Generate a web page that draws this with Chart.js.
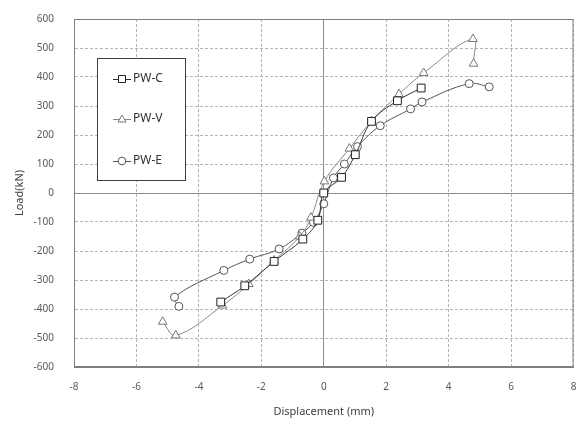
<!DOCTYPE html>
<html>
<head>
<meta charset="utf-8">
<script src="https://cdn.jsdelivr.net/npm/chart.js@4.4.0/dist/chart.umd.min.js"></script>
<style>
  html, body { margin: 0; padding: 0; background: #fff; overflow: hidden; }
  canvas { display: block; }
</style>
</head>
<body>
<canvas id="loadChart" width="580" height="430"></canvas>
<script>
// values (displacement mm, load kN)
var pwcX = [-3.3, -2.53, -1.59, -0.67, -0.19, 0, 0.57, 1.01, 1.53, 2.36, 3.12];
var pwcY = [-376, -320, -236, -159, -94, 0, 54, 132, 247, 318, 362];

var pwvX = [-5.16, -4.74, -3.24, -2.4, -1.59, -0.77, -0.41, 0.02, 0.82, 1.53, 2.41, 3.2, 4.78, 4.8];
var pwvY = [-444, -491, -388, -314, -233, -150, -85, 40, 153, 247, 341, 414, 531, 446];

var pweX = [-4.64, -4.78, -3.2, -2.37, -1.43, -0.7, -0.33, 0, 0.31, 0.66, 1.08, 1.81, 2.78, 3.15, 4.66, 5.3];
var pweY = [-391, -359, -267, -228, -193, -138, -101, -37, 52, 100, 160, 232, 290, 314, 377, 366];

var xTicks = [-8, -6, -4, -2, 0, 2, 4, 6, 8];
var yTicks = [-600, -500, -400, -300, -200, -100, 0, 100, 200, 300, 400, 500, 600];

function pts(xs, ys) {
  var out = [];
  for (var i = 0; i < xs.length; i++) out.push({x: xs[i], y: ys[i]});
  return out;
}

var legendItems = [
  {label: 'PW-C', style: 'rect', color: '#222222', line: '#333333'},
  {label: 'PW-V', style: 'triangle', color: '#777777', line: '#888888'},
  {label: 'PW-E', style: 'circle', color: '#555555', line: '#555555'}
];

// frame round the plot + legend box inside the plot
var framePlugin = {
  id: 'frame',
  afterDraw: function(c) {
    var ctx = c.ctx, a = c.chartArea;
    ctx.save();
    ctx.strokeStyle = '#7f7f7f';
    ctx.lineWidth = 1;
    ctx.strokeRect(a.left + 0.5, a.top + 0.5, a.right - a.left - 1, a.bottom - a.top - 1);

    // legend box
    var bx = 97, by = 58, bw = 88, bh = 122;
    ctx.fillStyle = '#fff';
    ctx.fillRect(bx, by, bw, bh);
    ctx.strokeStyle = '#404040';
    ctx.strokeRect(bx + 0.5, by + 0.5, bw, bh);
    var rows = [79, 119, 161];
    ctx.font = '12px "Noto Sans", sans-serif';
    ctx.textBaseline = 'middle';
    legendItems.forEach(function(it, i) {
      var y = rows[i], x0 = 113, x1 = 131, cx = 122;
      ctx.strokeStyle = it.line;
      ctx.lineWidth = 1;
      ctx.beginPath();
      ctx.moveTo(x0, y + 0.5);
      ctx.lineTo(x1, y + 0.5);
      ctx.stroke();
      ctx.fillStyle = '#fff';
      ctx.strokeStyle = it.color;
      ctx.beginPath();
      if (it.style === 'rect') ctx.rect(cx - 3.5, y - 3.5, 7, 7);
      else if (it.style === 'circle') ctx.arc(cx, y, 3.8, 0, Math.PI * 2);
      else { ctx.moveTo(cx, y - 4); ctx.lineTo(cx + 4, y + 3); ctx.lineTo(cx - 4, y + 3); ctx.closePath(); }
      ctx.fill();
      ctx.stroke();
      ctx.fillStyle = '#333';
      ctx.fillText(it.label, 133, y);
    });
    ctx.restore();
  }
};

function series(label, xs, ys, style, color, line, r) {
  return {
    label: label,
    data: pts(xs, ys),
    showLine: true,
    tension: 0.4,
    borderColor: line,
    borderWidth: 1,
    pointStyle: style,
    pointRadius: r,
    pointBackgroundColor: '#fff',
    pointBorderColor: color,
    pointBorderWidth: 1
  };
}

var chart = document.getElementById('loadChart');

new Chart(chart, {
  type: 'scatter',
  data: {
    datasets: [
      series('PW-C', pwcX, pwcY, 'rect', '#222222', '#333333', 5.5),
      series('PW-V', pwvX, pwvY, 'triangle', '#777777', '#888888', 5),
      series('PW-E', pweX, pweY, 'circle', '#555555', '#555555', 4)
    ]
  },
  options: {
    responsive: false,
    animation: false,
    layout: { padding: { top: 19, right: 3, left: 0, bottom: 0 } },
    plugins: {
      legend: { display: false },
      tooltip: { enabled: false }
    },
    scales: {
      x: {
        type: 'linear',
        min: -8, max: 8,
        afterBuildTicks: function(s) { s.ticks = xTicks.map(function(v) { return {value: v}; }); },
        afterFit: function(s) { s.height = 63; s.paddingLeft = 0; s.paddingRight = 0; },
        ticks: { color: '#595959', font: { size: 10, family: '"Noto Sans", sans-serif' }, padding: 14 },
        grid: {
          drawTicks: false,
          color: function(c) { return c.tick && c.tick.value === 0 ? '#8c8c8c' : '#b4b4b4'; }
        },
        border: {
          color: '#7f7f7f',
          dash: function(c) { return c.tick && c.tick.value === 0 ? [] : [3, 2]; }
        },
        title: { display: true, text: 'Displacement (mm)', color: '#404040', font: { size: 11, family: '"Noto Sans", sans-serif' }, padding: { top: 4, bottom: 12 } }
      },
      y: {
        type: 'linear',
        min: -600, max: 600,
        afterBuildTicks: function(s) { s.ticks = yTicks.map(function(v) { return {value: v}; }); },
        afterFit: function(s) { s.width = 74; s.paddingTop = 0; s.paddingBottom = 0; },
        ticks: { color: '#595959', font: { size: 10, family: '"Noto Sans", sans-serif' }, padding: 20 },
        grid: {
          drawTicks: false,
          color: function(c) { return c.tick && c.tick.value === 0 ? '#8c8c8c' : '#b4b4b4'; }
        },
        border: {
          color: '#7f7f7f',
          dash: function(c) { return c.tick && c.tick.value === 0 ? [] : [3, 2]; }
        },
        title: { display: true, text: 'Load(kN)', color: '#404040', font: { size: 11, family: '"Noto Sans", sans-serif' }, padding: { top: 13, bottom: 0 } }
      }
    }
  },
  plugins: [framePlugin]
});
</script>
</body>
</html>
